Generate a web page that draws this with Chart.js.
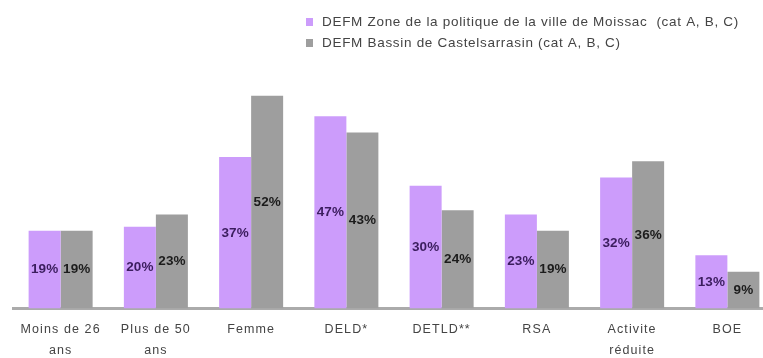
<!DOCTYPE html>
<html>
<head>
<meta charset="utf-8">
<script src="https://cdn.jsdelivr.net/npm/chart.js@4/dist/chart.umd.min.js"></script>
<style>
  html, body { margin: 0; padding: 0; background: #fff; overflow: hidden; }
  #wrap { width: 763px; height: 358px; overflow: hidden; }
  #box { position: relative; width: 780px; height: 375px; }
</style>
</head>
<body>
<div id="wrap"><div id="box"><canvas id="defmChart"></canvas></div></div>
<script>
// catégories de demandeurs
const categories = [
    ["Moins de 26", "ans"],
    ["Plus de 50", "ans"],
    "Femme",
    "DELD*",
    "DETLD**",
    "RSA",
    ["Activite", "réduite"],
    "BOE"
];

const moissacLabel = "DEFM Zone de la politique de la ville de Moissac  (cat A, B, C)";
const castelLabel = "DEFM Bassin de Castelsarrasin (cat A, B, C)";

// parts en %
const moissacValues = [19, 20, 37, 47, 30, 23, 32, 13];
const castelValues = [19, 23, 52, 43, 24, 19, 36, 9];

const PURPLE = "#cc9cfb";
const GREY = "#9e9e9e";
const FONT = "'Liberation Sans', Arial, sans-serif";

// texte un peu plus espacé pour les libellés d'axe
const wideText = {
    id: "wideText",
    beforeDraw(chart) {
        chart.ctx.letterSpacing = "1.1px";
    }
};

// étiquettes de valeur au milieu de chaque barre
const barValueLabels = {
    id: "barValueLabels",
    afterDatasetsDraw(chart) {
        const ctx = chart.ctx;
        ctx.save();
        ctx.letterSpacing = "0px";
        ctx.font = "bold 13.5px " + FONT;
        ctx.textAlign = "center";
        ctx.textBaseline = "middle";
        chart.data.datasets.forEach((ds, di) => {
            const meta = chart.getDatasetMeta(di);
            ctx.fillStyle = di === 0 ? "#3b1d5e" : "#1c1c1c";
            meta.data.forEach((bar, i) => {
                const y = (bar.y + bar.base) / 2;
                ctx.fillText(ds.data[i] + "%", bar.x, y);
            });
        });
        ctx.restore();
    }
};

// légende en deux lignes, en haut à droite
const stackedLegend = {
    id: "stackedLegend",
    afterDraw(chart) {
        const ctx = chart.ctx;
        ctx.save();
        ctx.letterSpacing = "0.7px";
        ctx.font = "13.5px " + FONT;
        ctx.textBaseline = "middle";
        ctx.textAlign = "left";
        const rows = [22, 43];
        chart.data.datasets.forEach((ds, i) => {
            ctx.fillStyle = ds.backgroundColor;
            ctx.fillRect(306, rows[i] - 4, 7, 8);
            ctx.fillStyle = "#444";
            ctx.fillText(ds.label, 322, rows[i]);
        });
        ctx.restore();
    }
};

new Chart(document.getElementById("defmChart"), {
    type: "bar",
    data: {
        labels: categories,
        datasets: [
            { label: moissacLabel, data: moissacValues, backgroundColor: PURPLE },
            { label: castelLabel, data: castelValues, backgroundColor: GREY }
        ]
    },
    options: {
        responsive: true,
        maintainAspectRatio: false,
        animation: false,
        layout: { padding: { top: 63, left: 13, right: 5, bottom: 4 } },
        datasets: {
            bar: { categoryPercentage: 0.672, barPercentage: 1.0 }
        },
        plugins: {
            legend: { display: false },
            tooltip: { enabled: false }
        },
        scales: {
            x: {
                grid: { display: false, drawTicks: false },
                border: { display: true, color: "#ababab", width: 3 },
                ticks: {
                    color: "#444",
                    padding: 10,
                    font: { family: FONT, size: 12.5, lineHeight: 1.7 },
                    maxRotation: 0,
                    autoSkip: false
                }
            },
            y: {
                display: false,
                min: 0,
                max: 60
            }
        }
    },
    plugins: [wideText, barValueLabels, stackedLegend]
});
</script>
</body>
</html>
